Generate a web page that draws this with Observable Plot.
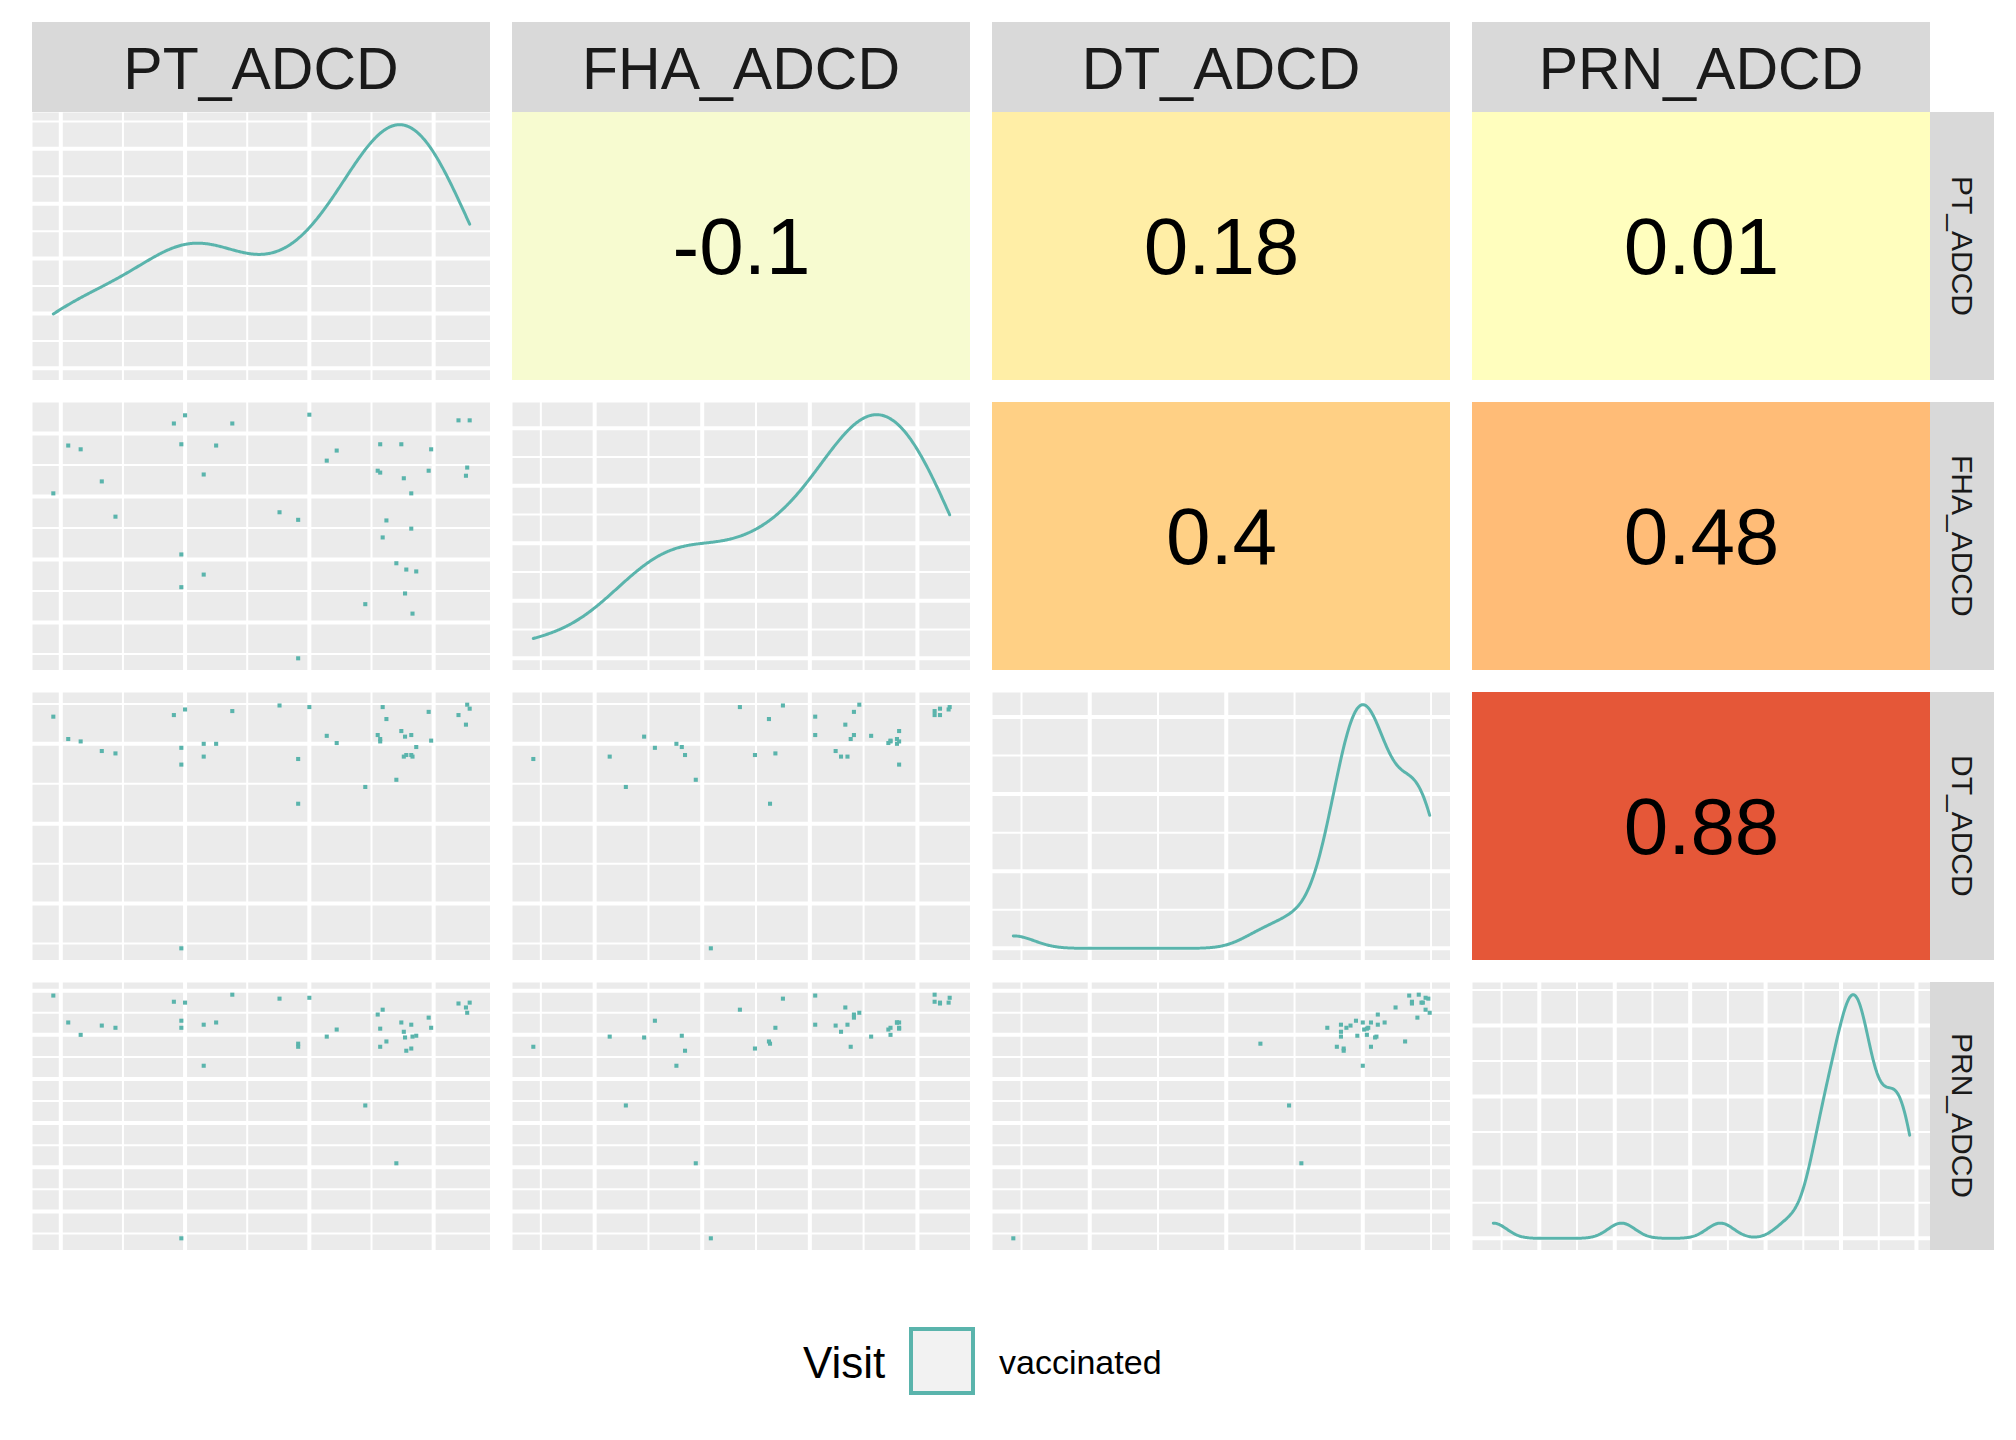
<!DOCTYPE html>
<html>
<head>
<meta charset="utf-8">
<script src="https://cdn.jsdelivr.net/npm/d3@7"></script>
<script src="https://cdn.jsdelivr.net/npm/@observablehq/plot@0.6"></script>
<style>
  html, body { margin: 0; padding: 0; background: #ffffff; }
  #page { position: relative; width: 2016px; height: 1440px; background: #ffffff; font-family: "Liberation Sans", Arial, sans-serif; }
  .panel { position: absolute; }
  .panel svg { display: block; }
  .strip-top { position: absolute; background: #D9D9D9; color: #1A1A1A; display: flex; align-items: center; justify-content: center; font-size: 59px; padding-top: 3px; box-sizing: border-box; }
  .strip-right { position: absolute; background: #D9D9D9; color: #1A1A1A; display: flex; align-items: center; justify-content: center; font-size: 30px; }
  .strip-right span { writing-mode: vertical-rl; }
  .legend-title { position: absolute; font-size: 44px; color: #000; }
  .legend-label { position: absolute; font-size: 34px; color: #000; }
  .legend-key { position: absolute; box-sizing: border-box; background: #F2F2F2; }
</style>
</head>
<body>
<div id="page"></div>
<script>
// ---------------- data ----------------
const variables = ["PT_ADCD", "FHA_ADCD", "DT_ADCD", "PRN_ADCD"];

const PT  = [2.00,1.91,2.38,3.00,4.20,4.29,1.06,1.16,1.97,2.25,3.22,3.14,3.57,3.74,3.98,1.33,0.94,2.15,3.55,3.57,3.76,3.96,4.27,4.26,3.82,1.44,2.76,2.91,3.62,3.82,3.59,1.97,3.70,3.78,3.86,2.15,1.97,3.77,3.45,3.83,2.91];
const FHA = [4.29,4.16,4.16,4.30,4.21,4.21,3.81,3.75,3.83,3.81,3.73,3.57,3.83,3.83,3.75,3.24,3.05,3.35,3.41,3.38,3.29,3.41,3.46,3.33,3.05,2.68,2.75,2.63,2.62,2.49,2.35,2.08,1.94,1.84,1.81,1.76,1.56,1.46,1.29,1.14,0.43];
const DT  = [3.43,3.36,3.41,3.46,3.36,3.44,3.06,3.03,2.74,3.00,3.01,3.10,3.03,3.16,3.04,2.91,3.34,2.84,3.11,3.06,2.84,3.40,3.49,3.24,3.11,2.88,3.48,2.25,3.31,2.86,3.46,0.44,2.55,2.86,2.96,3.00,2.95,3.09,2.46,2.84,2.81];
const PRN = [5.73,5.75,5.91,5.84,5.71,5.73,5.28,5.00,5.16,5.28,5.12,4.96,5.14,5.28,5.16,5.21,5.89,5.23,5.46,4.73,5.07,5.39,5.50,5.62,5.23,5.16,5.82,4.80,4.85,4.69,5.57,0.39,2.09,4.64,4.98,4.30,5.32,4.94,3.40,4.96,4.73];

// correlations shown in the upper triangle: (row, col) pairs
const corrRows   = [0, 0, 0, 1, 1, 2];
const corrCols   = [1, 2, 3, 2, 3, 3];
const corrValues = [-0.1, 0.18, 0.01, 0.4, 0.48, 0.88];

// major break positions of each variable's axis
const ptTicks  = [1, 2, 3, 4];
const fhaTicks = [1, 2, 3, 4];
const dtTicks  = [1, 2, 3];
const prnTicks = [1, 2, 3, 4, 5, 6];

// number of minor grid steps between density 0 and the peak in each diagonal panel
const densitySteps = [8.88, 8.47, 6.32, 6.87];

const legendTitle = "Visit";
const legendLabels = ["vaccinated"];

// ---------------- styles / layout ----------------
const TEAL = "#5AB4AC";
const PANEL_BG = "#EBEBEB";
const FONT = "Liberation Sans, Arial, sans-serif";
const colX = [32, 512, 992, 1472];
const rowY = [112, 402, 692, 982];
const PW = 458, PH = 268;

const series = [PT, FHA, DT, PRN];
const ticks = [ptTicks, fhaTicks, dtTicks, prnTicks];

function expandDomain(v) {
  const [lo, hi] = d3.extent(v);
  const pad = (hi - lo) * 0.05;
  return [lo - pad, hi + pad];
}
const domains = series.map(expandDomain);

function minorTicks(major, domain) {
  const d = major[1] - major[0];
  const b = [major[0] - d, ...major, major[major.length - 1] + d];
  const mids = b.slice(1).map((v, i) => (b[i] + v) / 2);
  return mids.filter(v => v >= domain[0] && v <= domain[1]);
}
function majorIn(major, domain) {
  return major.filter(v => v >= domain[0] && v <= domain[1]);
}

function kde(values) {
  const n = values.length;
  const sorted = values.slice().sort(d3.ascending);
  const sd = d3.deviation(values);
  const iqr = d3.quantile(sorted, 0.75) - d3.quantile(sorted, 0.25);
  const bw = 0.9 * Math.min(sd, iqr / 1.34) * Math.pow(n, -0.2);
  const [lo, hi] = d3.extent(values);
  return d3.range(512).map(i => {
    const x = lo + (hi - lo) * i / 511;
    const y = d3.sum(values, v => Math.exp(-0.5 * ((x - v) / bw) ** 2)) / (n * bw * Math.sqrt(2 * Math.PI));
    return {x, y};
  });
}

const page = document.getElementById("page");
function place(node, x, y) {
  const wrap = document.createElement("div");
  wrap.className = "panel";
  wrap.style.left = x + "px";
  wrap.style.top = y + "px";
  wrap.appendChild(node);
  page.appendChild(wrap);
}

function gridMarks(xMajor, xMinor, yMajor, yMinor) {
  return [
    Plot.frame({fill: PANEL_BG, stroke: "none"}),
    Plot.ruleX(xMinor, {stroke: "white", strokeWidth: 2}),
    Plot.ruleY(yMinor, {stroke: "white", strokeWidth: 2}),
    Plot.ruleX(xMajor, {stroke: "white", strokeWidth: 4}),
    Plot.ruleY(yMajor, {stroke: "white", strokeWidth: 4})
  ];
}

// ---------------- lower triangle: scatter panels ----------------
for (let r = 1; r < 4; r++) {
  for (let c = 0; c < r; c++) {
    const xd = domains[c], yd = domains[r];
    const pts = series[c].map((v, i) => ({x: v, y: series[r][i]}));
    const chart = Plot.plot({
      width: PW, height: PH, margin: 0,
      x: {domain: xd, axis: null},
      y: {domain: yd, axis: null},
      style: {fontFamily: FONT, background: "transparent"},
      marks: [
        ...gridMarks(majorIn(ticks[c], xd), minorTicks(ticks[c], xd), majorIn(ticks[r], yd), minorTicks(ticks[r], yd)),
        Plot.dot(pts, {x: "x", y: "y", symbol: "square", r: 2.3, fill: TEAL, stroke: "none"})
      ]
    });
    place(chart, colX[c], rowY[r]);
  }
}

// ---------------- diagonal: density panels ----------------
for (let k = 0; k < 4; k++) {
  const xd = domains[k];
  const dens = kde(series[k]);
  const peak = d3.max(dens, d => d.y);
  const yd = [-0.05 * peak, 1.05 * peak];
  const step = peak / densitySteps[k];
  const yMajor = [], yMinor = [];
  for (let j = 0; j * step <= yd[1]; j++) (j % 2 === 0 ? yMajor : yMinor).push(j * step);
  const chart = Plot.plot({
    width: PW, height: PH, margin: 0,
    x: {domain: xd, axis: null},
    y: {domain: yd, axis: null},
    style: {fontFamily: FONT, background: "transparent"},
    marks: [
      ...gridMarks(majorIn(ticks[k], xd), minorTicks(ticks[k], xd), yMajor, yMinor),
      Plot.line(dens, {x: "x", y: "y", stroke: TEAL, strokeWidth: 3, curve: "linear"})
    ]
  });
  place(chart, colX[k], rowY[k]);
}

// ---------------- upper triangle: correlation tiles ----------------
const corrColor = {
  type: "linear",
  domain: [-1, -2/3, -1/3, 0, 1/3, 2/3, 1],
  range: ["#4575B4", "#91BFDB", "#E0F3F8", "#FFFFBF", "#FEE090", "#FC8D59", "#D73027"],
  interpolate: "lab",
  legend: false
};
corrValues.forEach((v, i) => {
  const tile = [{value: v, pair: variables[corrRows[i]] + "|" + variables[corrCols[i]]}];
  const chart = Plot.plot({
    width: PW, height: PH, margin: 0,
    x: {axis: null, padding: 0},
    y: {axis: null, padding: 0},
    color: corrColor,
    style: {fontFamily: FONT, background: "transparent"},
    marks: [
      Plot.cell(tile, {x: "pair", y: "pair", fill: "value", inset: 0}),
      Plot.text(tile, {text: d => String(d.value), frameAnchor: "middle", fontSize: 80, fill: "black", dy: 2})
    ]
  });
  place(chart, colX[corrCols[i]], rowY[corrRows[i]]);
});

// ---------------- strips ----------------
variables.forEach((name, k) => {
  const top = document.createElement("div");
  top.className = "strip-top";
  Object.assign(top.style, {left: colX[k] + "px", top: "22px", width: PW + "px", height: "90px"});
  top.textContent = name;
  page.appendChild(top);

  const right = document.createElement("div");
  right.className = "strip-right";
  Object.assign(right.style, {left: (colX[3] + PW) + "px", top: rowY[k] + "px", width: "64px", height: PH + "px"});
  const sp = document.createElement("span");
  sp.textContent = name;
  right.appendChild(sp);
  page.appendChild(right);
});

// ---------------- legend ----------------
const lt = document.createElement("div");
lt.className = "legend-title";
Object.assign(lt.style, {left: "803px", top: "1338px", lineHeight: "50px"});
lt.textContent = legendTitle;
page.appendChild(lt);

legendLabels.forEach((lab, i) => {
  const key = document.createElement("div");
  key.className = "legend-key";
  Object.assign(key.style, {left: "909px", top: (1327 + i * 70) + "px", width: "66px", height: "68px", border: "4px solid " + TEAL});
  page.appendChild(key);
  const lb = document.createElement("div");
  lb.className = "legend-label";
  Object.assign(lb.style, {left: "999px", top: (1342 + i * 70) + "px", lineHeight: "40px"});
  lb.textContent = lab;
  page.appendChild(lb);
});
</script>
</body>
</html>
